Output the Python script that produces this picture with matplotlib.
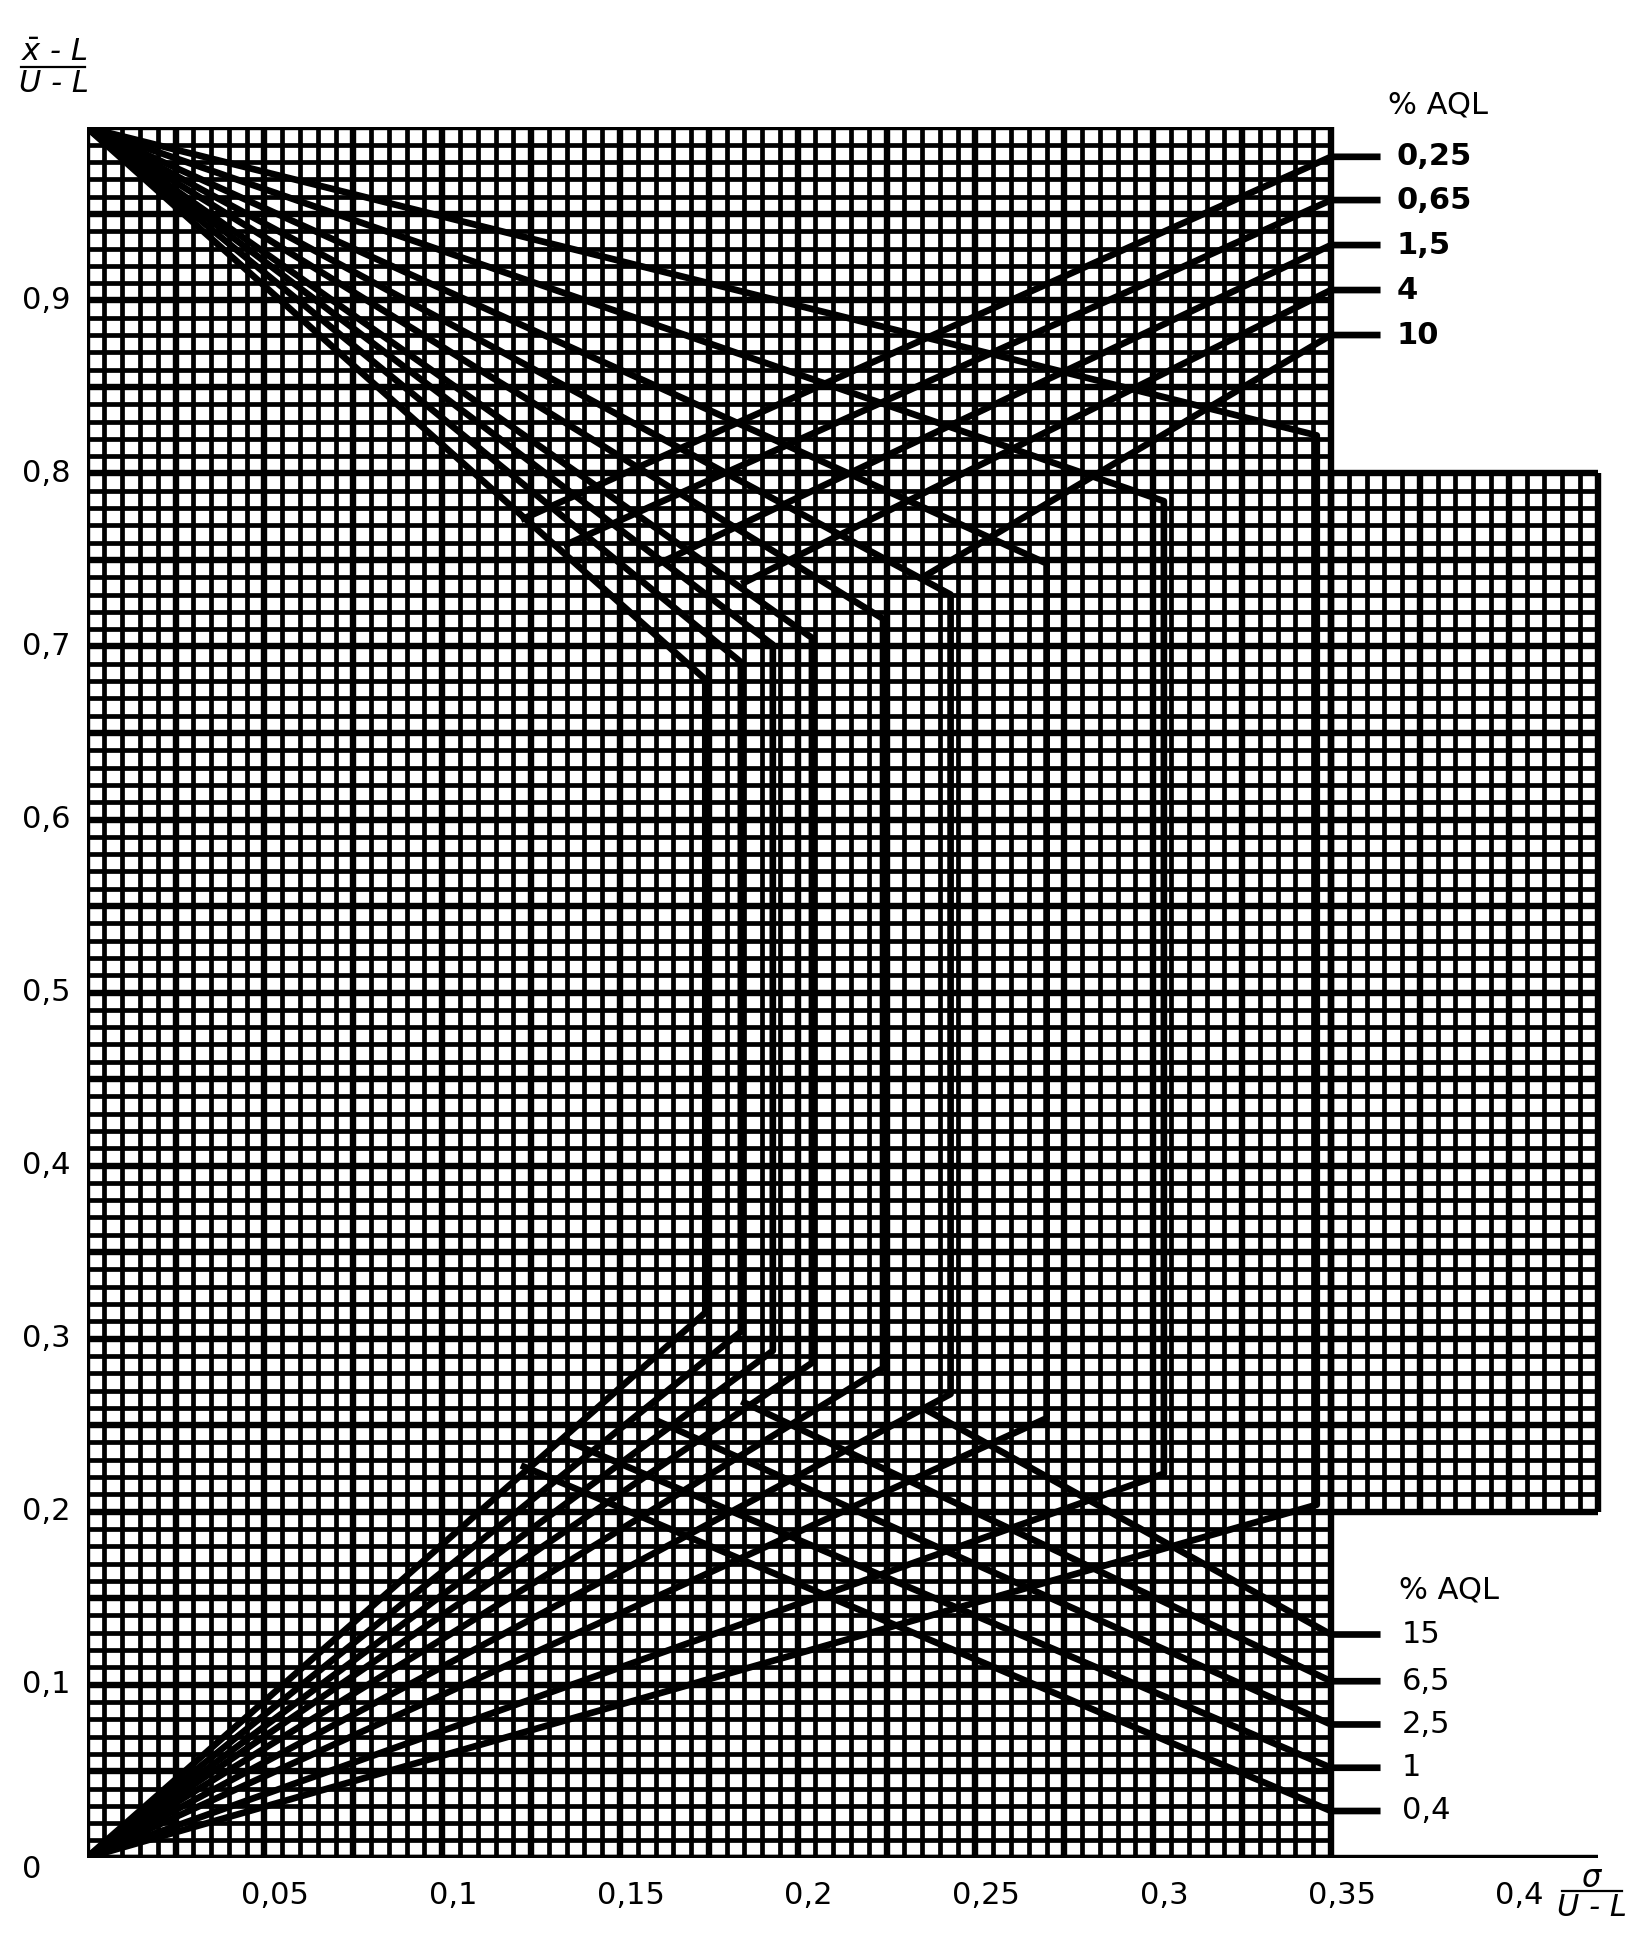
import numpy as np
import matplotlib.pyplot as plt

# maximum sigma/(U-L) of each acceptance curve (vertical segment)
sigma_max = [0.174, 0.184, 0.193, 0.204, 0.224, 0.243, 0.270, 0.303, 0.346]
# upper end and lower end of the vertical segments
y_top = [0.681, 0.691, 0.701, 0.705, 0.716, 0.730, 0.748, 0.784, 0.822]
y_bottom = [0.315, 0.304, 0.293, 0.286, 0.283, 0.268, 0.254, 0.222, 0.204]

# AQL lines, upper limit (start on the right edge, end on the left)
aql_upper = ['0,25', '0,65', '1,5', '4', '10']
aql_upper_y = [0.983, 0.958, 0.932, 0.906, 0.880]
aql_upper_end_x = [0.123, 0.135, 0.161, 0.185, 0.236]
aql_upper_end_y = [0.774, 0.759, 0.748, 0.737, 0.741]

# AQL lines, lower limit
aql_lower = ['15', '6,5', '2,5', '1', '0,4']
aql_lower_y = [0.129, 0.102, 0.077, 0.052, 0.027]
aql_lower_end_x = [0.236, 0.185, 0.161, 0.135, 0.123]
aql_lower_end_y = [0.259, 0.263, 0.252, 0.241, 0.226]

x_ticks = [0.05, 0.1, 0.15, 0.2, 0.25, 0.3, 0.35, 0.4]
x_tick_labels = ['0,05', '0,1', '0,15', '0,2', '0,25', '0,3', '0,35', '0,4']
y_ticks = [0, 0.1, 0.2, 0.3, 0.4, 0.5, 0.6, 0.7, 0.8, 0.9]
y_tick_labels = ['0', '0,1', '0,2', '0,3', '0,4', '0,5', '0,6', '0,7', '0,8', '0,9']

FONT = ['Liberation Sans Narrow', 'DejaVu Sans']
plt.rcParams['font.family'] = FONT

fig = plt.figure(figsize=(16.36, 19.42), dpi=100)
ax = fig.add_axes([0.053, 0.0434, 0.9344, 0.8910])
ax.set_xlim(0, 0.43)
ax.set_ylim(0, 1)
ax.axis('off')

K = 'black'
GRID_LW = 3.4
THICK_LW = 4.6

# main grid
for i in range(71):
    x = i * 0.005
    ax.plot([x, x], [0, 1], color=K, lw=THICK_LW if i % 5 == 0 else GRID_LW,
            solid_capstyle='butt')
for j in range(101):
    y = j * 0.01
    ax.plot([0, 0.35], [y, y], color=K, lw=THICK_LW if j % 5 == 0 else GRID_LW,
            solid_capstyle='butt')

# extra grid block on the right
for i in range(16):
    x = 0.35 + i * 0.005
    ax.plot([x, x], [0.2, 0.8], color=K, lw=THICK_LW if i % 5 == 0 else GRID_LW,
            solid_capstyle='butt')
for j in range(61):
    y = 0.2 + j * 0.01
    ax.plot([0.35, 0.425], [y, y], color=K, lw=THICK_LW if j % 5 == 0 else GRID_LW,
            solid_capstyle='butt')

# bottom axis line carries on to 0.425
ax.plot([0, 0.425], [0, 0], color=K, lw=THICK_LW, solid_capstyle='butt')

# acceptance curves
CURVE_LW = 4.8
for sx, yt, yb in zip(sigma_max, y_top, y_bottom):
    ax.plot([0, sx, sx, 0], [1, yt, yb, 0], color=K, lw=CURVE_LW,
            solid_joinstyle='round')

# AQL lines and labels
for lab, y0, ex, ey in zip(aql_upper, aql_upper_y, aql_upper_end_x, aql_upper_end_y):
    ax.plot([ex, 0.35, 0.363], [ey, y0, y0], color=K, lw=CURVE_LW)
    ax.text(0.3685, y0, lab, fontsize=22, ha='left', va='center', weight='bold')
for lab, y0, ex, ey in zip(aql_lower, aql_lower_y, aql_lower_end_x, aql_lower_end_y):
    ax.plot([ex, 0.35, 0.363], [ey, y0, y0], color=K, lw=CURVE_LW)
    ax.text(0.370, y0, lab, fontsize=22, ha='left', va='center')

ax.text(0.366, 1.013, '% AQL', fontsize=22, ha='left', va='center')
ax.text(0.369, 0.155, '% AQL', fontsize=22, ha='left', va='center')

# tick labels
for x, lab in zip(x_ticks, x_tick_labels):
    ax.text(x + 0.003, -0.022, lab, fontsize=22, ha='center', va='center',
            clip_on=False)
for y, lab in zip(y_ticks, y_tick_labels):
    ax.text(0.0136, y - (0.007 if y == 0 else 0), lab, fontsize=22, ha='left',
            va='center', transform=ax.get_yaxis_transform().__class__(
                fig.transFigure, ax.transData))

# axis titles written as fractions
fig.text(0.033, 0.973, r'$\bar{x}$ - L', fontsize=22, ha='center', va='center',
         style='italic')
fig.add_artist(plt.Line2D([0.013, 0.052], [0.9655, 0.9655], color=K, lw=1.6))
fig.text(0.033, 0.957, 'U - L', fontsize=22, ha='center', va='center',
         style='italic')

ax.text(0.4235, -0.012, r'$\sigma$', fontsize=22, ha='center', va='center')
ax.plot([0.415, 0.432], [-0.0195, -0.0195], color=K, lw=1.6, clip_on=False)
ax.text(0.4235, -0.029, 'U - L', fontsize=22, ha='center', va='center',
        style='italic', clip_on=False)

fig.savefig('out.png', dpi=100, facecolor='white')
